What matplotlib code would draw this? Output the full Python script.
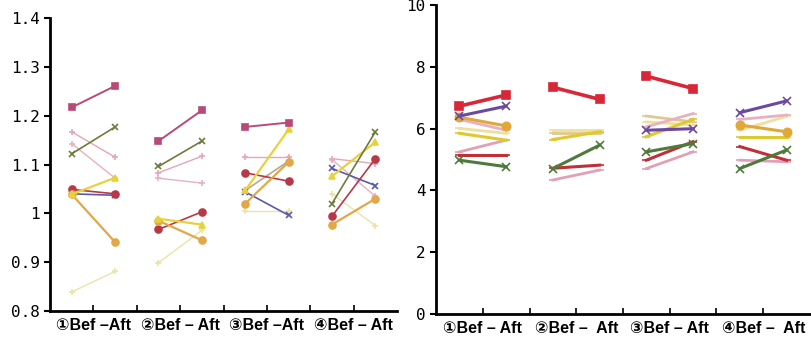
import numpy as np
import matplotlib
matplotlib.use("Agg")
import matplotlib.pyplot as plt

nan = np.nan

# positions: Bef/Aft for each of 4 conditions
slots = [0, 1, 2, 3, 4, 5, 6, 7]
labels_left = ["①Bef –Aft", "②Bef – Aft", "③Bef –Aft", "④Bef – Aft"]
labels_right = ["①Bef – Aft", "②Bef –  Aft", "③Bef – Aft", "④Bef –  Aft"]

# left panel series (Bef, Aft) x 4
l_pinksq = [1.217, 1.261, 1.148, 1.211, 1.177, 1.186, nan, nan]
l_green = [1.122, 1.177, 1.096, 1.148, nan, nan, 1.020, 1.167]
l_pink1 = [1.167, 1.115, 1.083, 1.117, 1.115, 1.115, 1.112, 1.102]
l_pink2 = [1.143, 1.072, 1.072, 1.062, nan, nan, 1.110, 1.035]
l_yellow = [1.039, 1.073, 0.989, 0.977, 1.047, 1.172, 1.076, 1.146]
l_red = [1.049, 1.040, 0.967, 1.003, 1.083, 1.066, 0.994, 1.112]
l_navy = [1.040, 1.037, nan, nan, 1.044, 0.996, 1.092, 1.057]
l_orange = [1.039, 0.941, 0.985, 0.945, 1.020, 1.105, 0.977, 1.030]
l_lightyel = [0.839, 0.881, 0.899, 0.965, 1.005, 1.005, 1.040, 0.975]
l_tan = [nan, nan, nan, nan, 1.047, 1.107, nan, nan]

# right panel series
r_red = [6.73, 7.09, 7.34, 6.95, 7.70, 7.30, nan, nan]
r_purple = [6.41, 6.73, nan, nan, 5.95, 6.00, 6.52, 6.90]
r_orange = [6.37, 6.09, nan, nan, nan, nan, 6.12, 5.90]
r_pink1 = [6.30, 5.95, nan, nan, 6.06, 6.49, 6.30, 6.44]
r_lightyel = [6.01, 5.85, 5.95, 5.95, 6.22, 6.12, 5.95, 6.40]
r_yellow = [5.85, 5.63, 5.65, 5.90, 5.74, 6.30, 5.74, 5.74]
r_pink2 = [5.25, 5.63, 4.34, 4.66, 4.71, 5.25, 4.98, 4.93]
r_darkred = [5.15, 5.15, 4.72, 4.82, 4.98, 5.58, 5.42, 4.98]
r_green = [4.98, 4.77, 4.71, 5.47, 5.25, 5.52, 4.71, 5.31]
r_beige = [nan, nan, 5.85, 5.85, 6.41, 6.22, nan, nan]

left_series = [
    (l_lightyel, "#ece3a8", "+", 1.0),
    (l_pink1, "#e4a6b8", "+", 1.0),
    (l_pink2, "#e7b2c0", "+", 1.0),
    (l_tan, "#b8a890", "+", 1.2),
    (l_navy, "#5a5aa8", "x", 1.2),
    (l_red, "#b83848", "o", 1.2),
    (l_orange, "#e2a848", "o", 1.6),
    (l_yellow, "#e8d23c", "^", 1.6),
    (l_green, "#6e7a3c", "x", 1.2),
    (l_pinksq, "#b84a78", "s", 1.4),
]

right_series = [
    (r_beige, "#e0c890", "_", 2.0),
    (r_lightyel, "#eee09a", "_", 2.0),
    (r_pink1, "#e8b0c0", "_", 2.0),
    (r_pink2, "#e2a0b8", "_", 2.0),
    (r_yellow, "#e0c830", "_", 2.2),
    (r_orange, "#e0a838", "o", 2.2),
    (r_darkred, "#c03038", "_", 2.2),
    (r_green, "#4e7a3c", "x", 2.2),
    (r_purple, "#6a4aa0", "x", 2.2),
    (r_red, "#d82838", "s", 2.6),
]

fig = plt.figure(figsize=(8.12, 3.41), dpi=100)
ax1 = fig.add_axes([0.0616, 0.088, 0.4274, 0.859])
ax2 = fig.add_axes([0.537, 0.079, 0.4605, 0.906])

x = np.array(slots)


def draw(ax, series, ms):
    for vals, col, mk, lw in series:
        v = np.array(vals, dtype=float)
        for g in range(4):
            xs = x[2 * g:2 * g + 2]
            ys = v[2 * g:2 * g + 2]
            if np.isnan(ys).any():
                continue
            ax.plot(xs, ys, color=col, lw=lw, marker=mk, ms=ms,
                    mew=1.2, mfc=col, mec=col)


draw(ax1, left_series, 5)
draw(ax2, right_series, 6)

mono = "DejaVu Sans Mono"
lab_font = ["Liberation Sans", "DejaVu Sans"]

for ax, labs in [(ax1, labels_left), (ax2, labels_right)]:
    ax.set_xlim(-0.5, 7.5)
    for s in ["top", "right"]:
        ax.spines[s].set_visible(False)
    for s in ["left", "bottom"]:
        ax.spines[s].set_linewidth(2)
    # labelled ticks at group centres, plain ticks between groups
    ax.set_xticks([0.5, 2.5, 4.5, 6.5])
    ax.set_xticklabels(labs, fontsize=11.5, fontweight="bold", family=lab_font)
    ax.set_xticks([1.5, 3.5, 5.5], minor=True)
    ax.tick_params(axis="x", which="both", direction="in", length=4,
                   width=1.2, pad=5)
    ax.tick_params(axis="y", direction="out", length=4, width=1.5,
                   labelsize=11.5)

ax1.set_ylim(0.8, 1.4)
ax1.set_yticks([0.8, 0.9, 1.0, 1.1, 1.2, 1.3, 1.4])
ax1.set_yticklabels(["0.8", "0.9", "1", "1.1", "1.2", "1.3", "1.4"], family=mono)

ax2.set_ylim(0, 10)
ax2.set_yticks([0, 2, 4, 6, 8, 10])
ax2.set_yticklabels(["0", "2", "4", "6", "8", "10"], family=mono)

fig.savefig("out.png", dpi=100)
